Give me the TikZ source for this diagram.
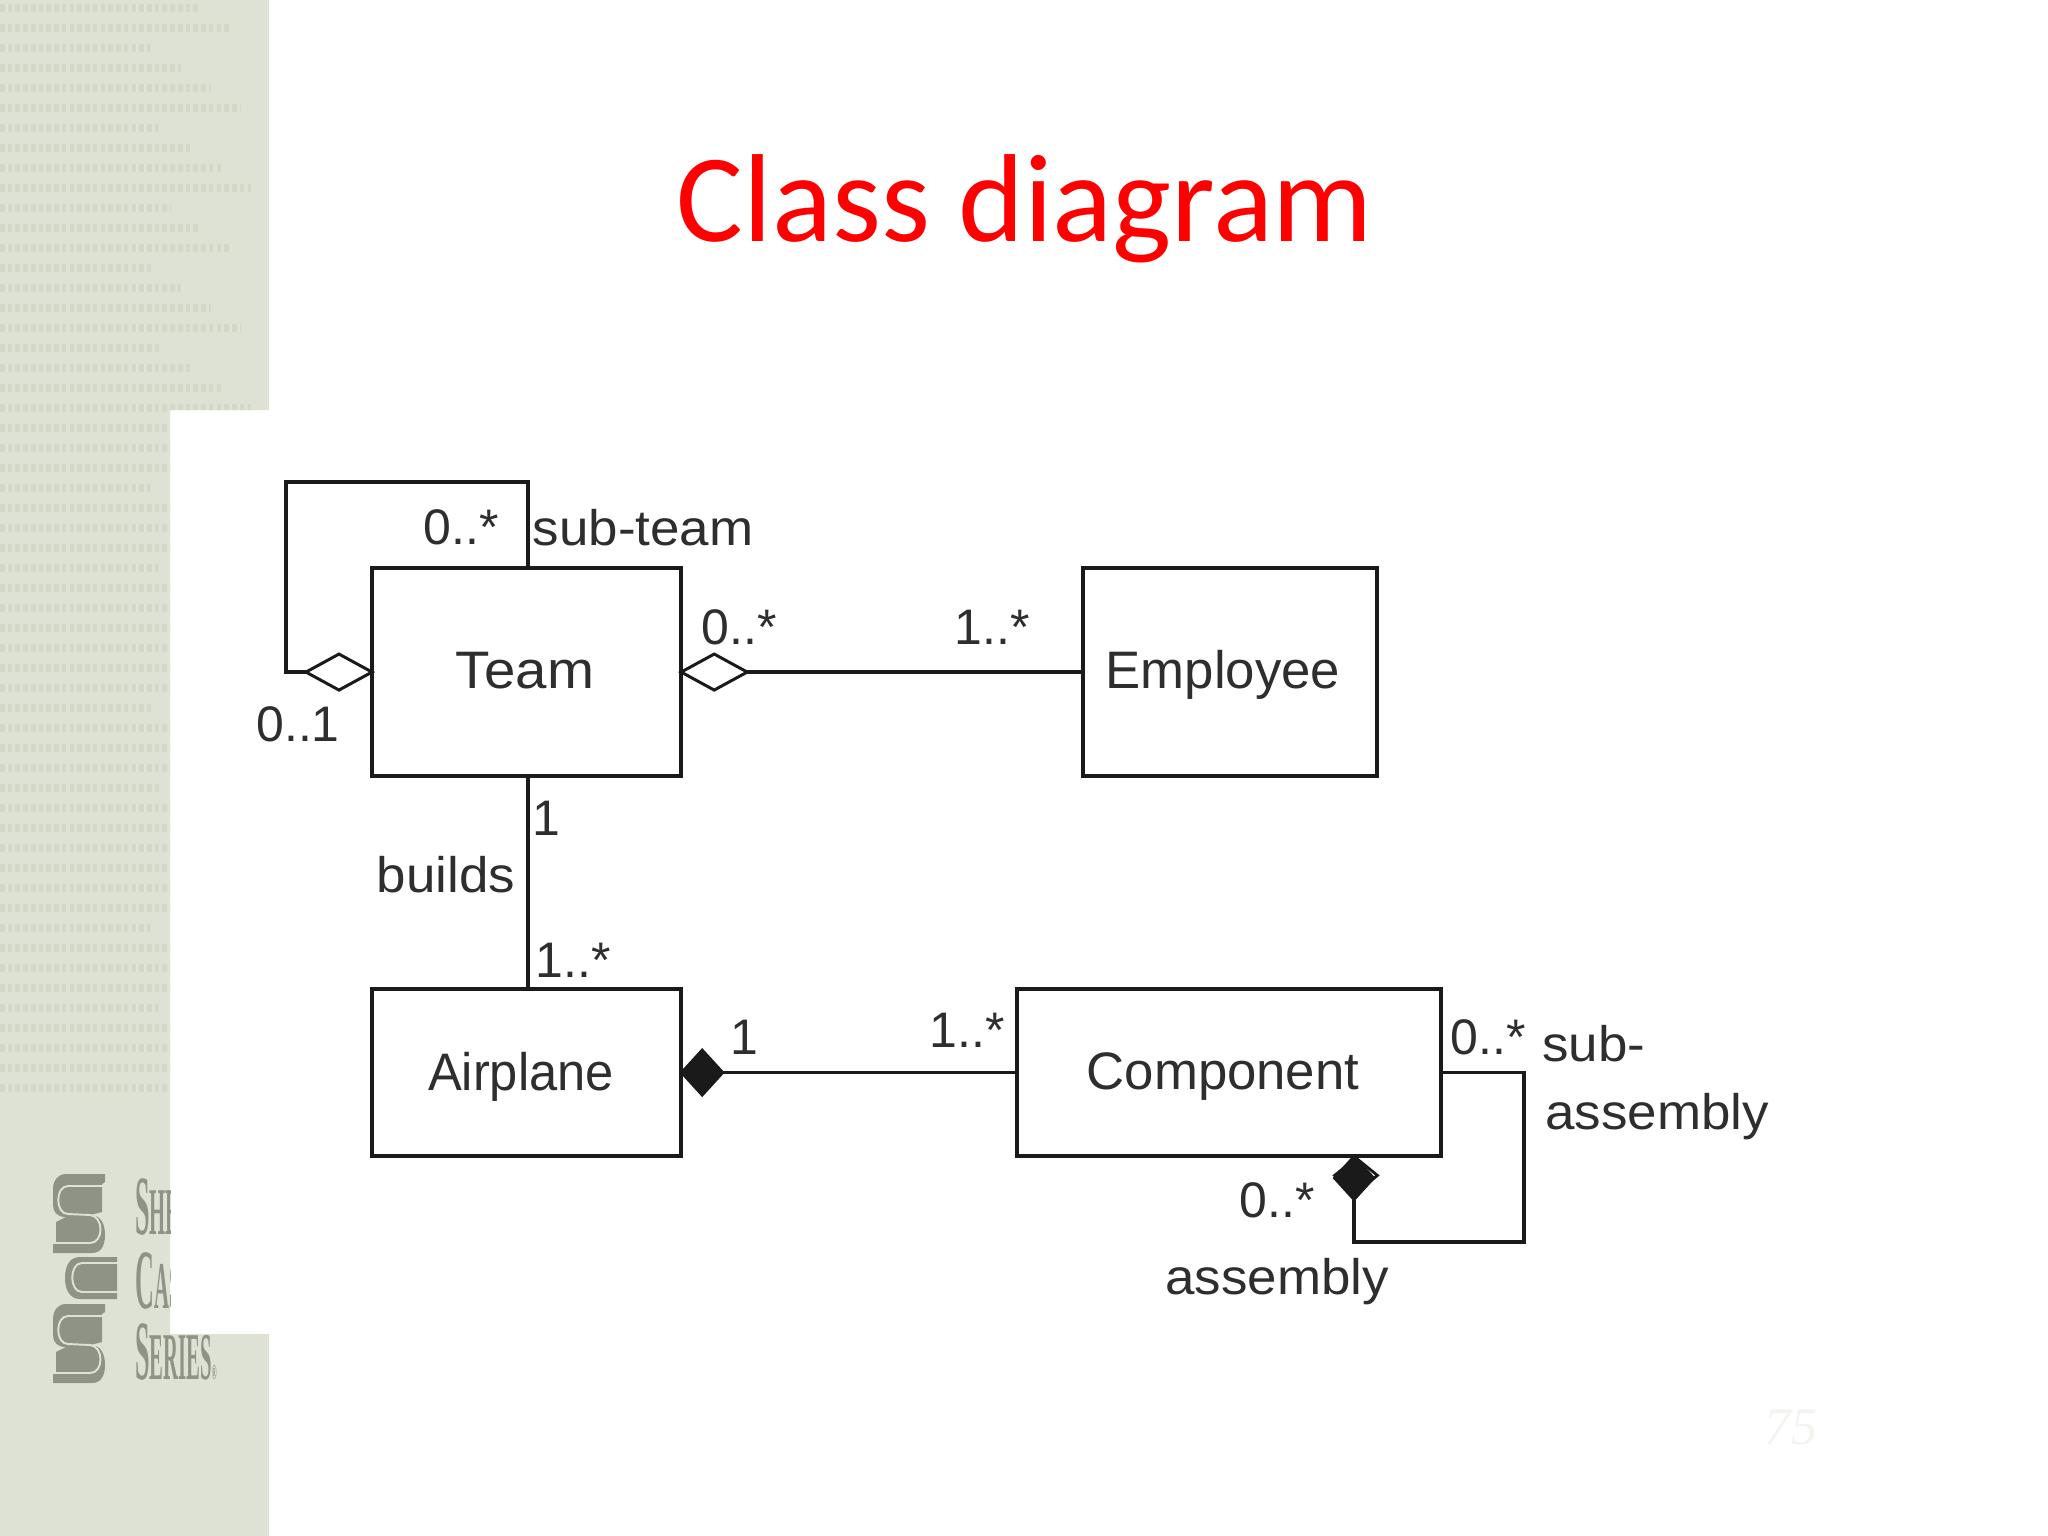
\documentclass[tikz,border=0pt]{standalone}
\usepackage{fontspec}
\usetikzlibrary{shapes.geometric}
\setmainfont{Liberation Sans}
\newfontfamily\titlefont{Carlito}
\newfontfamily\logofont{Liberation Serif}
\definecolor{sage}{HTML}{DEE2D5}
\definecolor{sagedark}{HTML}{D4D8C9}
\definecolor{logoc}{HTML}{8E9385}
\definecolor{ink}{HTML}{1A1A1A}
\definecolor{txt}{HTML}{2E2E2E}
\tikzset{
  cls/.style={draw=ink,line width=1.05pt,fill=white,inner sep=0pt,outer sep=0pt,anchor=north west},
  rel/.style={draw=ink,line width=1.05pt},
  lbl/.style={inner sep=0pt,text=txt,font=\fontsize{14.2}{17}\selectfont},
  wordlbl/.style={lbl,xscale=1.06},
  namelbl/.style={inner sep=0pt,text=txt,font=\fontsize{15}{17}\selectfont},
  opend/.style={draw=ink,line width=0.85pt,fill=white,minimum width=0.66cm,minimum height=0.36cm,inner sep=0pt,outer sep=0pt},
  filld/.style={draw=ink,fill=ink,line width=0.6pt,inner sep=0pt,outer sep=0pt},
  logotxt/.style={inner sep=0pt,text=logoc,anchor=south west,font=\logofont\bfseries\fontsize{19}{19}\selectfont,xscale=0.31},
  bookc/.style={fill=logoc,draw=none},
  bookline/.style={draw=sage,line width=0.55pt},
}
\begin{document}
\begin{tikzpicture}[x=0.01cm,y=-0.01cm]
\useasboundingbox (0,0) rectangle (2048,1536);
% band
\fill[sage] (0,0) -- (269,0) -- (269,410) -- (170,410) -- (170,1334) -- (269,1334) -- (269,1536) -- (0,1536) -- cycle;
\begin{scope}
\clip (0,0) -- (269,0) -- (269,410) -- (170,410) -- (170,1334) -- (269,1334) -- (269,1536) -- (0,1536) -- cycle;
\foreach \y in {8,28,...,1100}{
  \pgfmathsetmacro{\e}{145+mod(\y*7,110)}
  \draw[sagedark,line width=2pt,dash pattern=on 1.3pt off 0.9pt] (0,\y) -- (\e,\y);
}
\end{scope}
% logo: two S-shaped books and one middle book
\foreach \dy in {0,130}{
\begin{scope}[shift={(0,\dy)}]
\fill[bookc] (66,1174) -- (105,1174) -- (105,1182) -- (102,1184) -- (102,1212) -- (90,1215) .. controls (101,1215) and (105,1224) .. (105,1235) .. controls (105,1247) and (100,1253) .. (92,1253) -- (53,1253) -- (53,1244) -- (56,1242) -- (56,1222) -- (66,1217) .. controls (57,1217) and (53,1212) .. (53,1205) -- (53,1190) .. controls (53,1180) and (58,1174) .. (66,1174) -- cycle;
\draw[bookline] (105,1186) -- (68,1186) .. controls (55,1186) and (55,1214) .. (68,1214) -- (90,1215) .. controls (104,1216) and (104,1243) .. (90,1243) -- (52,1243);
\end{scope}
}
\fill[bookc] (117,1257) -- (117,1299) -- (80,1299) .. controls (70,1299) and (65,1290) .. (65,1278) .. controls (65,1265) and (70,1257) .. (80,1257) -- cycle;
\draw[bookline] (118,1263) -- (82,1263) .. controls (69,1263) and (69,1292) .. (82,1292) -- (118,1292);
\begin{scope}
\clip (0,0) rectangle (170,1536);
\node[logotxt] (she) at (135,1236) {\fontsize{24}{24}\selectfont S\fontsize{19}{19}\selectfont HE};
\node[logotxt] (cas) at (135,1310) {\fontsize{24}{24}\selectfont C\fontsize{19}{19}\selectfont AS};
\end{scope}
\node[logotxt] (series) at (135,1381) {\fontsize{24}{24}\selectfont S\fontsize{19}{19}\selectfont ERIES\fontsize{6}{6}\selectfont ®};
% title
\node[inner sep=0pt,text={rgb,255:red,255;green,0;blue,0},font=\titlefont\fontsize{35.6}{40}\selectfont] (title) at (1025,209) {Class diagram};
\node[inner sep=0pt,text={rgb,255:red,243;green,244;blue,240},font=\logofont\itshape\fontsize{15}{15}\selectfont] (page) at (1791,1427) {75};
% classes
\node[cls,minimum width=3.09cm,minimum height=2.08cm] (team) at (372,568) {};
\node[cls,minimum width=2.94cm,minimum height=2.08cm] (emp) at (1083,568) {};
\node[cls,minimum width=3.09cm,minimum height=1.67cm] (air) at (372,989) {};
\node[cls,minimum width=4.24cm,minimum height=1.67cm] (comp) at (1017,989) {};
\node[namelbl,xscale=1.07] (teamt) at (525,671) {Team};
\node[namelbl] (empt) at (1223,675) {Employee};
\node[namelbl,xscale=0.96] (airt) at (521,1077) {Airplane};
\node[namelbl] (compt) at (1223,1077) {Component};
% diamonds
\node[diamond,opend,anchor=east] (d1) at (team.west) {};
\node[diamond,opend,anchor=west] (d2) at (team.east) {};
\node[diamond,filld,minimum width=0.42cm,minimum height=0.46cm,anchor=west] (d3) at (air.east) {};
\coordinate (c1) at (1354,1156);
\node[diamond,draw=ink,fill=white,line width=0.8pt,minimum width=0.44cm,minimum height=0.36cm,inner sep=0pt,anchor=north] (d5) at (1356,1156) {};
\node[diamond,filld,minimum width=0.40cm,minimum height=0.44cm,anchor=north] (d4) at (c1) {};
% connectors
\coordinate (t1) at (528,568);
\coordinate (t2) at (528,776);
\coordinate (t3) at (528,989);
\draw[rel] (t1) -- (528,482) -- (286,482) |- (d1.west);
\draw[rel] (d2.east) -- (emp.west);
\draw[rel] (t2) -- (t3);
\draw[rel] (d3.east) -- (comp.west);
\draw[rel] (comp.east) -| (1524,1242) -| (d4.south);
% labels
\node[lbl] (l1) at (461,527) {0..*};
\node[wordlbl] (l2) at (643,528) {sub-team};
\node[lbl] (l3) at (298,724) {0..1};
\node[lbl] (l4) at (739,627) {0..*};
\node[lbl] (l5) at (992,627) {1..*};
\node[lbl] (l6) at (546,818) {1};
\node[wordlbl] (l7) at (446,875) {builds};
\node[lbl] (l8) at (573,960) {1..*};
\node[lbl] (l9) at (744,1037) {1};
\node[lbl] (l10) at (967,1030) {1..*};
\node[lbl] (l11) at (1488,1037) {0..*};
\node[wordlbl] (l12) at (1594,1044) {sub-};
\node[wordlbl] (l13) at (1657,1117) {assembly};
\node[lbl] (l14) at (1277,1200) {0..*};
\node[wordlbl] (l15) at (1277,1282) {assembly};
\end{tikzpicture}
\end{document}
